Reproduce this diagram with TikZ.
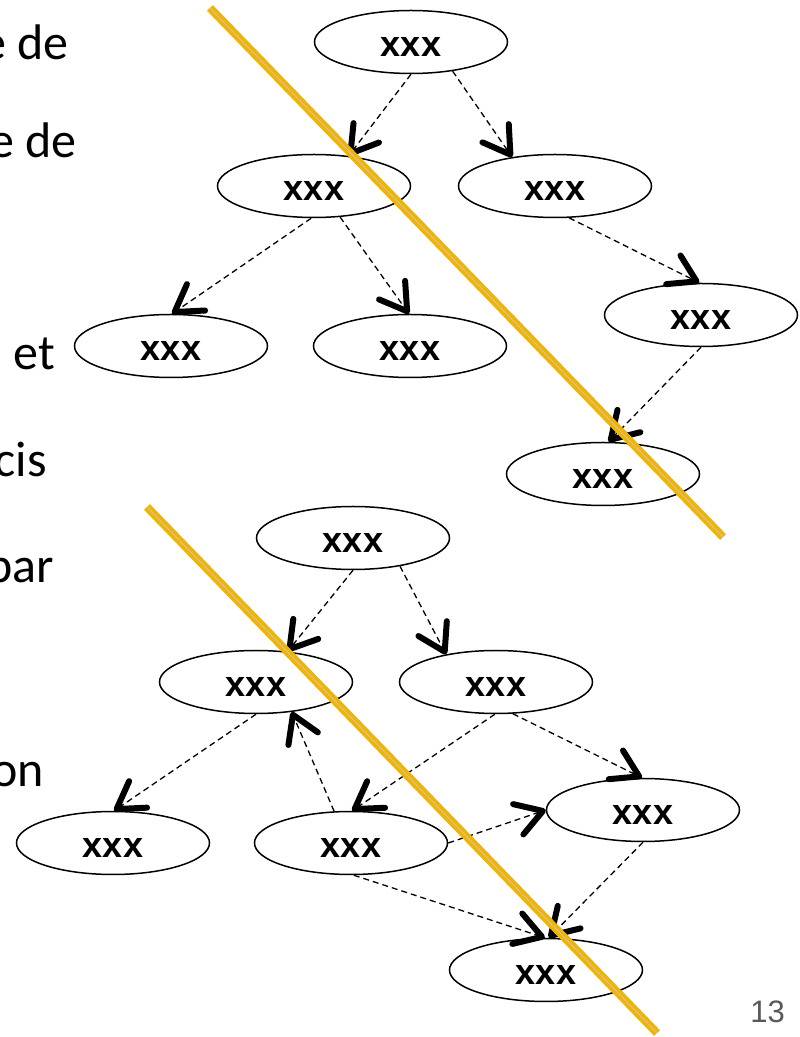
\documentclass[tikz,border=0pt]{standalone}
\usepackage{fontspec}
\setmainfont{Carlito}
\newfontfamily\labelfont{Liberation Sans}
\usetikzlibrary{arrows.meta,shapes.geometric}
\definecolor{hiyellow}{RGB}{241,180,0}
\definecolor{histripe}{RGB}{205,196,172}
\definecolor{pagegray}{RGB}{89,89,89}

% open chevron tip with thick round strokes
\pgfdeclarearrow{
  name = OpenV,
  defaults = {length = 26pt, width = 32pt, line width = 6pt},
  setup code = {
    \pgfarrowssettipend{.5\pgfarrowlinewidth}
    \pgfarrowssetbackend{-\pgfarrowlength}
    \pgfarrowssetlineend{-.5\pgfarrowlinewidth}
    \pgfarrowssavethe\pgfarrowlinewidth
    \pgfarrowssavethe\pgfarrowlength
    \pgfarrowssavethe\pgfarrowwidth
  },
  drawing code = {
    \pgfsetdash{}{+0pt}
    \pgfsetroundcap
    \pgfsetroundjoin
    \pgfsetlinewidth{\pgfarrowlinewidth}
    \pgfpathmoveto{\pgfqpoint{-\pgfarrowlength}{.5\pgfarrowwidth}}
    \pgfpathlineto{\pgfqpoint{0pt}{0pt}}
    \pgfpathlineto{\pgfqpoint{-\pgfarrowlength}{-.5\pgfarrowwidth}}
    \pgfusepathqstroke
  },
  parameters = {\the\pgfarrowlinewidth,\the\pgfarrowlength,\the\pgfarrowwidth},
}

\begin{document}
\begin{tikzpicture}[x=1pt,y=1pt,
  treenode/.style={ellipse, draw, line width=1.5pt, minimum width=193pt,
    minimum height=63pt, inner sep=0pt, text height=30pt,
    font=\labelfont\bfseries\fontsize{36}{40}\selectfont},
  link/.style={line width=1.3pt, dash pattern=on 6pt off 4pt,
    -{OpenV[length=26pt,width=32pt,line width=6pt]}},
  bodytext/.style={anchor=base east, inner sep=0pt,
    font=\fontsize{50}{60}\selectfont},
  strikeshadow/.style={line width=8pt, black, opacity=0.15},
  strikebar/.style={line width=8pt, hiyellow},
  strikestripe/.style={line width=1pt, histripe}
]
\useasboundingbox (0,0) rectangle (800,1037);
\clip (0,0) rectangle (800,1037);
\fill[white] (0,0) rectangle (800,1037);

% text fragments at the left edge
\node[bodytext] (t1) at (69,977) {e de};
\node[bodytext] (t2) at (77,879) {e de};
\node[bodytext] (t3) at (55,667) {et};
\node[bodytext] (t4) at (47,560) {cis};
\node[bodytext] (t5) at (54,454) {par};
\node[bodytext] (t6) at (44,250) {on};

% upper tree
\node[treenode] (A) at (411,995) {xxx};
\node[treenode] (B) at (314,851) {xxx};
\node[treenode] (C) at (555,851) {xxx};
\node[treenode] (D) at (171,691) {xxx};
\node[treenode] (E) at (410,691) {xxx};
\node[treenode] (F) at (701,722) {xxx};
\node[treenode] (G) at (603,563) {xxx};

\draw[link] (A.south) -- (B.41);
\draw[link] (A.-35) -- (C.146);
\draw[link] (B.-95) -- (D.88);
\draw[link] (B.-50) -- (E.92);
\draw[link] (C.-66) -- (F.93);
\draw[link] (F.south) -- (G.80);

% lower graph
\node[treenode] (H) at (353,499) {xxx};
\node[treenode] (I) at (256,355) {xxx};
\node[treenode] (J) at (496,355) {xxx};
\node[treenode] (K) at (113,194) {xxx};
\node[treenode] (L) at (351,194) {xxx};
\node[treenode] (M) at (643,227) {xxx};
\node[treenode] (N) at (546,67) {xxx};

\draw[link] (H.south) -- (I.44);
\draw[link] (H.-31) -- (J.151);
\draw[link] (I.south) -- (K.88);
\draw[link] (L.118) -- (I.-40);
\draw[link] (J.-92) -- (L.88);
\draw[link] (J.-62) -- (M.92);
\draw[link] (L.east) -- (M.west);
\draw[link] (L.-85) -- (N.92);
\draw[link] (M.south) -- (N.85);

% diagonal highlighter strokes
\coordinate (s1a) at (210,1029);
\coordinate (s1b) at (723,500);
\coordinate (s2a) at (147,530);
\coordinate (s2b) at (657,4);
\foreach \p/\q in {s1a/s1b, s2a/s2b} {
  \draw[strikeshadow, shift={(-2.5,-2.5)}] (\p) -- (\q);
  \draw[strikebar] (\p) -- (\q);
  \draw[strikestripe, shift={(-1.6,-1.55)}] (\p) -- (\q);
}

% page number
\node[anchor=base east, inner sep=0pt, text=pagegray,
  font=\labelfont\fontsize{31}{36}\selectfont] (pg) at (785,15) {13};
\end{tikzpicture}
\end{document}
